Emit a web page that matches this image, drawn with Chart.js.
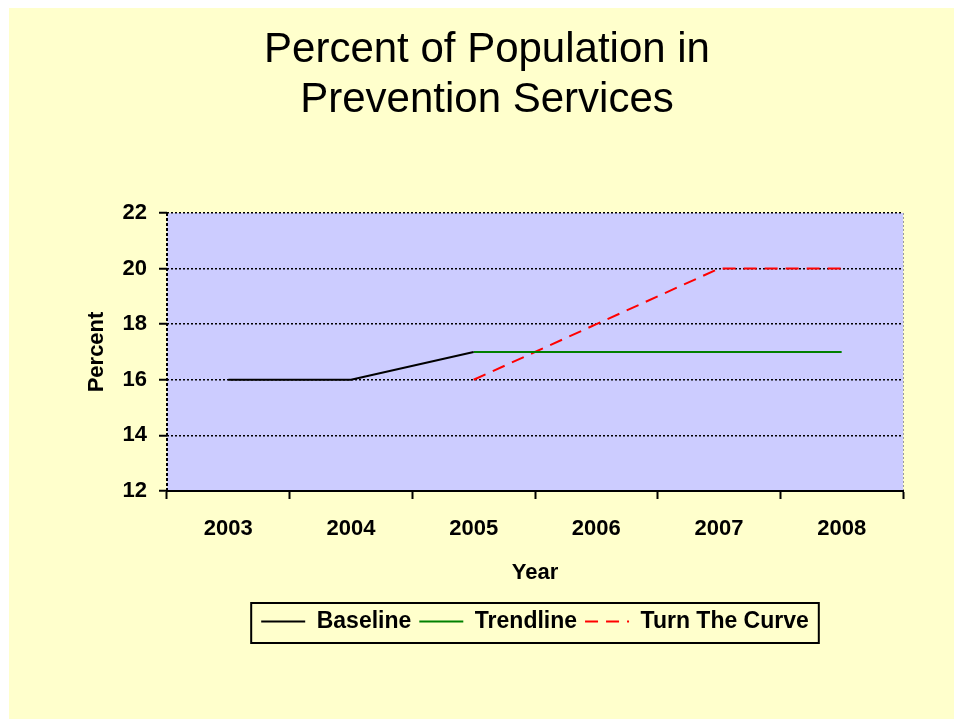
<!DOCTYPE html>
<html>
<head>
<meta charset="utf-8">
<script src="https://cdn.jsdelivr.net/npm/chart.js@4"></script>
<style>
html,body{margin:0;padding:0;background:#fff;}
canvas{display:block;}
</style>
</head>
<body>
<canvas id="c" width="954" height="719"></canvas>
<script>
const years = ['2003', '2004', '2005', '2006', '2007', '2008'];
const baseline = [16, 16, 17, null, null, null];
const trendline = [null, null, 17, 17, 17, 17];
const turnTheCurve = [null, null, 16, 18, 20, 20];
const titleLines = ['Percent of Population in', 'Prevention Services'];
const yTicks = { min: 12, max: 22, step: 2 };

const FONT = 'Arial, "Liberation Sans", sans-serif';

const bgPlugin = {
  id: 'bg',
  beforeDraw(chart) {
    const ctx = chart.ctx;
    const a = chart.chartArea;
    ctx.save();
    ctx.fillStyle = '#ffffff';
    ctx.fillRect(0, 0, chart.width, chart.height);
    ctx.fillStyle = '#FFFFCC';
    ctx.fillRect(9, 8, chart.width - 9, chart.height - 8);
    ctx.fillStyle = '#CCCCFF';
    ctx.fillRect(a.left, a.top, a.right - a.left, a.bottom - a.top);
    ctx.strokeStyle = '#999999';
    ctx.lineWidth = 1;
    ctx.setLineDash([2, 2]);
    ctx.beginPath();
    ctx.moveTo(a.right + 0.5, a.top);
    ctx.lineTo(a.right + 0.5, a.bottom);
    ctx.stroke();
    ctx.restore();
  },
  afterDraw(chart) {
    const ctx = chart.ctx;
    const a = chart.chartArea;
    ctx.save();
    ctx.strokeStyle = '#000';
    ctx.lineWidth = 2;
    ctx.setLineDash([3, 2]);
    ctx.beginPath();
    ctx.moveTo(a.left, a.top);
    ctx.lineTo(a.left, a.bottom);
    ctx.stroke();
    ctx.setLineDash([]);
    const lg = chart.legend;
    if (lg && lg.legendHitBoxes && lg.legendHitBoxes.length) {
      let l = Infinity, r = -Infinity;
      lg.legendHitBoxes.forEach(h => { l = Math.min(l, h.left); r = Math.max(r, h.left + h.width); });
      ctx.lineWidth = 2;
      ctx.strokeStyle = '#000';
      ctx.strokeRect(l - 10, lg.top + 1, (r - l) + 20, lg.bottom - lg.top - 1);
    }
    ctx.restore();
  }
};

new Chart(document.getElementById('c'), {
  type: 'line',
  data: {
    labels: years,
    datasets: [
      { label: 'Baseline', data: baseline, borderColor: '#000000', backgroundColor: '#000000', borderWidth: 2 },
      { label: 'Trendline', data: trendline, borderColor: '#008000', backgroundColor: '#008000', borderWidth: 2 },
      { label: 'Turn The Curve', data: turnTheCurve, borderColor: '#FF0000', backgroundColor: '#FF0000', borderWidth: 2, borderDash: [13, 8] }
    ]
  },
  options: {
    responsive: false,
    animation: false,
    elements: { point: { radius: 0, hoverRadius: 0 }, line: { tension: 0 } },
    layout: { padding: { left: 20, right: 0, top: 0, bottom: 76 } },
    plugins: {
      tooltip: { enabled: false },
      title: {
        display: true,
        text: titleLines,
        color: '#000',
        font: { family: FONT, size: 42, weight: 'normal', lineHeight: 1.19 },
        padding: { top: 25, bottom: 88 }
      },
      legend: {
        position: 'bottom',
        fullSize: false,
        labels: {
          color: '#000',
          font: { family: FONT, size: 23, weight: 'bold' },
          usePointStyle: true,
          pointStyle: 'line',
          pointStyleWidth: 44,
          padding: 8,
          generateLabels(chart) {
            const items = Chart.defaults.plugins.legend.labels.generateLabels(chart);
            items.forEach(it => {
              const ds = chart.data.datasets[it.datasetIndex];
              it.lineDash = ds.borderDash || [];
              it.strokeStyle = ds.borderColor;
              it.lineWidth = 2;
            });
            return items;
          }
        }
      }
    },
    scales: {
      x: {
        type: 'category',
        offset: true,
        grid: { offset: true, drawOnChartArea: false, drawTicks: true, tickLength: 8, tickColor: '#000', tickWidth: 2 },
        border: { display: true, color: '#000', width: 2 },
        ticks: { color: '#000', font: { family: FONT, size: 22, weight: 'bold' }, padding: 17, maxRotation: 0 },
        title: { display: true, text: 'Year', color: '#000', font: { family: FONT, size: 22, weight: 'bold' }, padding: { top: 16, bottom: 16 } },
        afterFit(s) { s.height = 111; }
      },
      y: {
        min: yTicks.min,
        max: yTicks.max,
        grid: { color: '#000', lineWidth: 1.5, drawTicks: true, tickLength: 8, tickColor: '#000', tickWidth: 2, tickBorderDash: [] },
        border: { display: false, dash: [2, 2] },
        ticks: { stepSize: yTicks.step, color: '#000', font: { family: FONT, size: 22, weight: 'bold' }, padding: 12 },
        title: { display: true, text: 'Percent', color: '#000', font: { family: FONT, size: 22, weight: 'bold' }, padding: { top: 64, bottom: 0 } },
        afterFit(s) { s.width = 147; }
      },
      yRight: {
        type: 'linear',
        position: 'right',
        display: true,
        grid: { display: false, drawTicks: false },
        border: { display: false },
        ticks: { display: false },
        afterFit(s) { s.width = 51; }
      }
    }
  },
  plugins: [bgPlugin]
});
</script>
</body>
</html>
